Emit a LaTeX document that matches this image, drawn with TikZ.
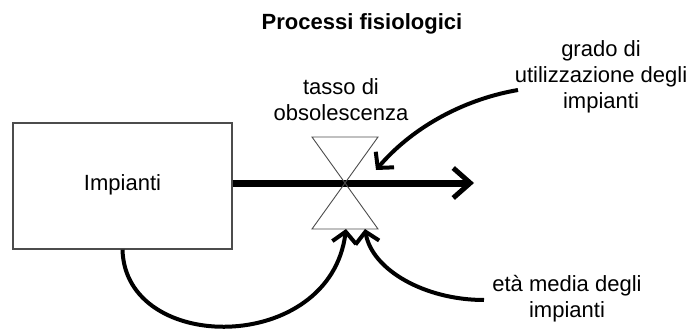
\documentclass[tikz,border=0pt]{standalone}
\usepackage{fontspec}
\setmainfont{Liberation Sans}
\usetikzlibrary{arrows.meta}

\begin{document}
\begin{tikzpicture}[x=1pt,y=-1pt,
    lab/.style={font=\fontsize{22}{26}\selectfont,align=center,inner sep=0pt},
    valve/.style={draw=black!70,line width=0.9pt,line join=miter},
    flow/.style={line width=7pt,-{Straight Barb[length=17pt,width=30pt,line width=5pt]}},
    link/.style={line width=4pt,-{Straight Barb[length=11pt,width=24pt,line width=4pt]}}]
      \useasboundingbox (0,0) rectangle (689,329);
      \node[lab,font=\bfseries\fontsize{22}{26}\selectfont,anchor=base] (T) at (362,30) {Processi fisiologici};
      \node[draw=black!70,line width=1.2pt,minimum width=219pt,minimum height=126pt,inner sep=0pt] (S) at (122.5,186) {};
      \node[lab,anchor=base] (SL) at (122.5,190) {Impianti};
      \coordinate (V) at (345,183);
      \node[lab,anchor=base] (L) at (341,121) {tasso di\\obsolescenza};
      \node[lab,anchor=base] (G) at (601,109) {grado di\\utilizzazione degli\\impianti};
      \node[lab,anchor=base] (E) at (567,317) {età media degli\\impianti};
        % valvola
      \coordinate (F) at (474,183);
      \coordinate (P) at (346,229);
      \coordinate (Q) at (365,229);
      \coordinate (R) at (376,170);
      \coordinate (G0) at (518,90);
      \coordinate (E0) at (484,300);
      \draw[flow] (S.east |- V) -- (F);
      \draw[valve] (V) -- ++(-33,-46) -- ++(66,0) -- cycle;
      \draw[valve] (V) -- ++(-33,46) -- ++(66,0) -- cycle;
      \draw[link] (S.south) .. controls (125,355) and (330,355) .. (P);
      \draw[link] (E0) .. controls (425,300) and (372,270) .. (Q);
      \draw[link] (G0) .. controls (460,100) and (410,130) .. (R);
    \end{tikzpicture}
\end{document}
